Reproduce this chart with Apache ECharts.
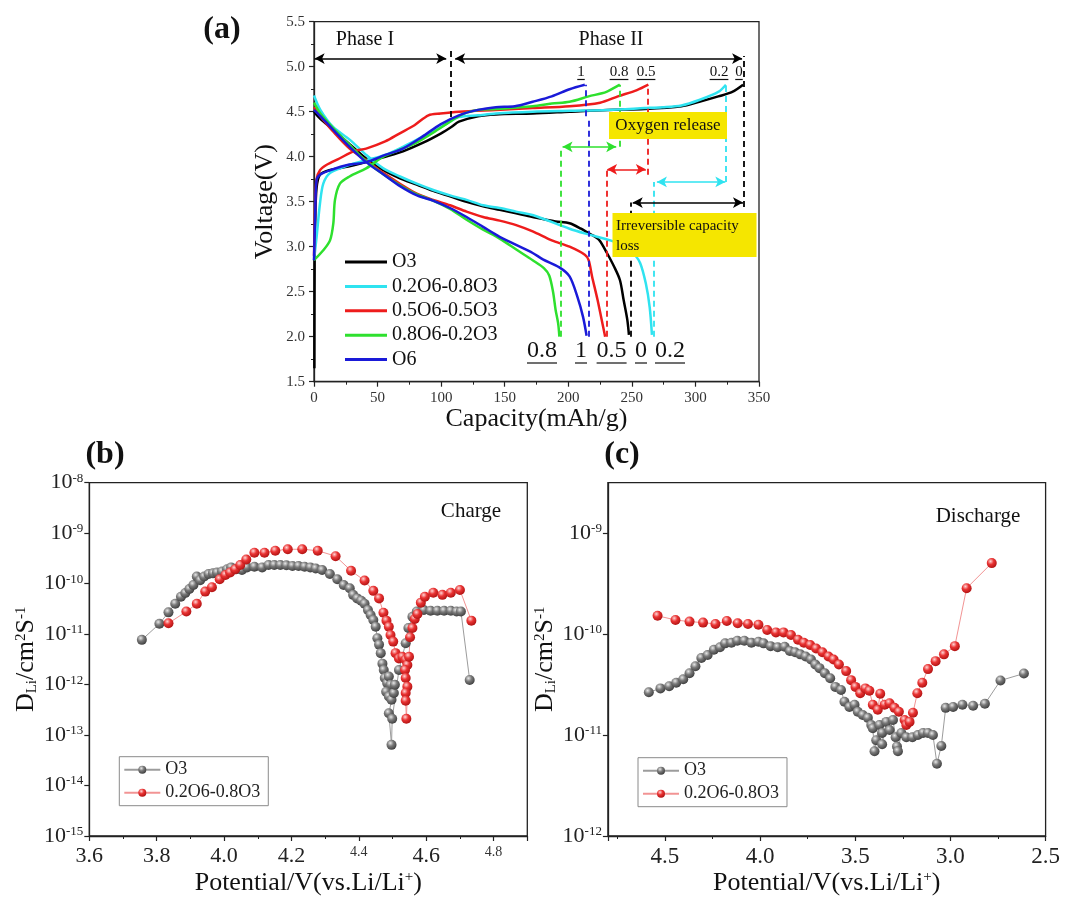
<!DOCTYPE html>
<html>
<head>
<meta charset="utf-8">
<title>Charge/discharge and Li diffusion</title>
<script src="https://cdn.jsdelivr.net/npm/echarts/dist/echarts.min.js"></script>
<style>
  html, body { margin: 0; padding: 0; background: #fff; }
  #chart { width: 1080px; height: 914px; }
</style>
</head>
<body>
<div id="chart"></div>
<script>
  const SERIF = "'Times New Roman', 'Liberation Serif', 'DejaVu Serif', serif";

  // (a) courbes de charge / décharge : capacité (mAh/g) et tension (V)
  const o3ChgCap = [0.3, 0.5, 1, 2, 4.6, 12, 27, 41, 56, 70, 85, 100, 108, 114, 129, 143, 172, 201, 231, 260, 289, 303, 318, 329, 337.5];
  const o3ChgV = [1.65, 2.8, 3.3, 3.65, 3.8, 3.85, 3.89, 3.94, 4.0, 4.06, 4.15, 4.26, 4.33, 4.39, 4.45, 4.47, 4.48, 4.5, 4.52, 4.53, 4.56, 4.61, 4.67, 4.72, 4.8];
  const c2ChgCap = [0, 2, 4.7, 7.3, 12.6, 28, 41, 56, 70, 85, 100, 114, 129, 143, 172, 201, 231, 260, 274, 289, 303, 318, 324];
  const c2ChgV = [2.85, 3.1, 3.48, 3.7, 3.82, 3.91, 3.96, 4.02, 4.11, 4.22, 4.33, 4.44, 4.46, 4.48, 4.5, 4.51, 4.52, 4.54, 4.55, 4.57, 4.63, 4.72, 4.8];
  const c5ChgCap = [0, 1, 2, 4.7, 10, 20, 31, 41, 56, 67.5, 79, 90, 99.5, 114, 143, 172, 201, 225, 239, 254, 263];
  const c5ChgV = [2.9, 3.5, 3.75, 3.85, 3.91, 3.98, 4.06, 4.09, 4.17, 4.26, 4.35, 4.46, 4.48, 4.5, 4.52, 4.54, 4.56, 4.6, 4.67, 4.74, 4.8];
  const c8ChgCap = [0, 7.3, 12.6, 15.2, 16.5, 20.4, 28, 41, 54.5, 68, 81, 94, 107, 114, 120, 129, 143, 172, 187, 201, 216, 230, 240.6];
  const c8ChgV = [2.85, 2.96, 3.07, 3.26, 3.52, 3.7, 3.78, 3.87, 4.0, 4.08, 4.16, 4.27, 4.39, 4.45, 4.49, 4.52, 4.53, 4.56, 4.59, 4.61, 4.67, 4.72, 4.8];
  const o6ChgCap = [0, 1, 2, 4.7, 15, 27, 41, 56, 70, 85, 99.5, 114, 129, 143, 158, 172, 187, 201, 213];
  const o6ChgV = [2.85, 3.4, 3.74, 3.8, 3.86, 3.91, 3.94, 4.02, 4.09, 4.22, 4.36, 4.46, 4.52, 4.55, 4.56, 4.61, 4.67, 4.75, 4.8];

  const o3DisCap = [0, 5, 15, 28, 41, 54.5, 67.6, 80.8, 93.8, 107, 120, 133, 146, 159, 172, 190, 201, 210, 216, 220, 224.6, 230.4, 236, 240.6, 243.5, 246.4, 247.7];
  const o3DisV = [4.5, 4.42, 4.3, 4.14, 3.98, 3.85, 3.76, 3.69, 3.62, 3.56, 3.5, 3.45, 3.41, 3.37, 3.33, 3.28, 3.26, 3.2, 3.15, 3.12, 3.07, 2.93, 2.78, 2.63, 2.41, 2.19, 2.02];
  const c2DisCap = [0, 5, 15, 28, 41, 54.5, 67.6, 80.8, 93.8, 107, 120, 133, 146, 159, 172.5, 201, 215, 233, 245, 251, 256.5, 261, 264, 265.8];
  const c2DisV = [4.68, 4.52, 4.33, 4.19, 4.02, 3.87, 3.78, 3.7, 3.63, 3.57, 3.52, 3.46, 3.43, 3.39, 3.35, 3.2, 3.14, 3.07, 3.0, 2.93, 2.82, 2.59, 2.33, 2.02];
  const c5DisCap = [0, 5, 15, 28, 44, 54.5, 67.6, 80.8, 93.8, 107, 120, 133, 146, 159, 172, 187, 201, 213, 216, 218.7, 223, 227.4, 229];
  const c5DisV = [4.55, 4.45, 4.28, 4.09, 3.93, 3.82, 3.7, 3.59, 3.52, 3.46, 3.39, 3.33, 3.29, 3.24, 3.17, 3.07, 3.0, 2.91, 2.85, 2.67, 2.41, 2.11, 2.0];
  const c8DisCap = [0, 5, 15, 28, 41, 55, 68, 81, 94, 107, 120, 133, 146, 160, 172, 181, 185, 188, 190, 192, 193];
  const c8DisV = [4.6, 4.48, 4.32, 4.13, 3.95, 3.8, 3.68, 3.58, 3.51, 3.42, 3.3, 3.19, 3.09, 2.96, 2.85, 2.76, 2.68, 2.5, 2.3, 2.15, 2.0];
  const o6DisCap = [0, 5, 15, 28, 41, 55, 68, 81, 94, 107, 120, 133, 146, 159, 172, 180, 193, 201, 207, 211.6, 214.4];
  const o6DisV = [4.52, 4.45, 4.3, 4.11, 3.94, 3.8, 3.67, 3.57, 3.51, 3.43, 3.33, 3.22, 3.11, 3.02, 2.93, 2.86, 2.77, 2.67, 2.45, 2.22, 2.01];

  const sampleNames = ['O3', '0.2O6-0.8O3', '0.5O6-0.5O3', '0.8O6-0.2O3', 'O6'];
  const sampleColors = ['#000000', '#2fe3f0', '#ee1c1c', '#2ee02e', '#1a1ad8'];

  // lignes pointillées verticales : [capacité, V bas, V haut, couleur]
  const dashMarks = [
    [107.3, 4.44, 5.18, '#000'], [338, 3.44, 5.12, '#000'], [249, 2.0, 3.49, '#000'],
    [214, 4.45, 4.8, '#1a1ad8'], [216, 2.0, 4.4, '#1a1ad8'],
    [240.6, 4.11, 4.8, '#2ee02e'], [194, 2.0, 4.11, '#2ee02e'],
    [262.4, 3.8, 4.8, '#ee1c1c'], [230.5, 2.0, 3.86, '#ee1c1c'],
    [324, 3.72, 4.8, '#2fe3f0'], [267.6, 2.0, 3.72, '#2fe3f0']
  ];
  // flèches doubles : [capacité début, capacité fin, V, couleur]
  const arrowMarks = [
    [0.5, 104, 5.09, '#000'], [111, 336.7, 5.09, '#000'],
    [195.5, 237.7, 4.11, '#2ee02e'], [230.5, 261, 3.86, '#ee1c1c'],
    [269.7, 323.5, 3.72, '#2fe3f0'], [250.7, 337.4, 3.49, '#000']
  ];

  // (b) coefficient de diffusion en charge
  const bPotO3 = [3.756, 3.808, 3.835, 3.855, 3.872, 3.885, 3.897, 3.909, 3.919, 3.929, 3.941, 3.954, 3.967, 3.979, 3.994, 4.009, 4.021, 4.036, 4.053, 4.068,
    4.09, 4.113, 4.132, 4.149, 4.167, 4.185, 4.203, 4.221, 4.239, 4.256, 4.272, 4.291, 4.314, 4.336, 4.355, 4.373, 4.383, 4.395, 4.407, 4.417,
    4.427, 4.435, 4.443, 4.45, 4.455, 4.46, 4.465, 4.47, 4.474, 4.477, 4.484, 4.489, 4.494, 4.481, 4.489, 4.497, 4.504, 4.507, 4.489, 4.497,
    4.499, 4.519, 4.539, 4.547, 4.559, 4.572, 4.593, 4.613, 4.633, 4.653, 4.673, 4.69, 4.703, 4.729];
  const bDO3 = [7.7e-12, 1.6e-11, 2.7e-11, 4.0e-11, 5.5e-11, 6.5e-11, 7.8e-11, 9.4e-11, 1.38e-10, 1.17e-10, 1.38e-10, 1.55e-10, 1.6e-10, 1.66e-10, 1.74e-10, 1.93e-10, 2.1e-10, 1.93e-10, 1.86e-10, 2.1e-10,
    2.17e-10, 2.1e-10, 2.34e-10, 2.34e-10, 2.34e-10, 2.31e-10, 2.24e-10, 2.24e-10, 2.17e-10, 2.1e-10, 2.0e-10, 1.86e-10, 1.55e-10, 1.22e-10, 9.4e-11, 8.1e-11, 6.0e-11, 5.1e-11, 4.6e-11, 4.0e-11,
    3.0e-11, 2.4e-11, 1.9e-11, 1.4e-11, 8.3e-12, 6.2e-12, 4.2e-12, 2.6e-12, 1.95e-12, 1.35e-12, 1.07e-12, 1.45e-12, 9.9e-13, 7.2e-13, 5.8e-13, 5.0e-13, 6.8e-13, 9.9e-13, 2.7e-13, 6.4e-14,
    2.1e-13, 1.95e-12, 6.6e-12, 1.32e-11, 2.2e-11, 2.8e-11, 3.0e-11, 2.9e-11, 2.9e-11, 2.9e-11, 2.9e-11, 2.8e-11, 2.8e-11, 1.23e-12];
  const bPotMix = [3.835, 3.888, 3.919, 3.944, 3.964, 3.987, 4.004, 4.018, 4.033, 4.048, 4.066, 4.09, 4.12, 4.152, 4.189, 4.232, 4.278, 4.331, 4.377, 4.417,
    4.443, 4.46, 4.473, 4.482, 4.489, 4.494, 4.502, 4.509, 4.519, 4.529, 4.539, 4.544, 4.537, 4.539, 4.544, 4.539, 4.539, 4.541,
    4.549, 4.552, 4.559, 4.566, 4.574, 4.584, 4.596, 4.621, 4.648, 4.673, 4.70, 4.734];
  const bDMix = [1.64e-11, 2.8e-11, 4.0e-11, 6.95e-11, 8.5e-11, 1.22e-10, 1.48e-10, 1.66e-10, 1.93e-10, 2.34e-10, 3.0e-10, 4.1e-10, 4.1e-10, 4.5e-10, 4.8e-10, 4.8e-10, 4.5e-10, 3.5e-10, 1.8e-10, 1.15e-10,
    7.2e-11, 5.1e-11, 2.66e-11, 1.85e-11, 1.4e-11, 9.6e-12, 7.1e-12, 4.2e-12, 3.3e-12, 3.55e-12, 3.1e-12, 2.45e-12, 1.95e-12, 1.35e-12, 9.1e-13, 6.8e-13, 4.8e-13, 2.1e-13,
    3.55e-12, 8.7e-12, 1.32e-11, 2.0e-11, 2.5e-11, 4.2e-11, 5.5e-11, 6.6e-11, 6.0e-11, 6.6e-11, 7.5e-11, 1.85e-11];

  // (c) coefficient de diffusion en décharge
  const cPotO3 = [4.585, 4.524, 4.478, 4.441, 4.404, 4.371, 4.34, 4.309, 4.276, 4.243, 4.211, 4.184, 4.151, 4.12, 4.083, 4.046, 4.009, 3.982, 3.945, 3.908,
    3.871, 3.844, 3.816, 3.789, 3.761, 3.733, 3.71, 3.688, 3.66, 3.632, 3.605, 3.575, 3.557, 3.531, 3.504, 3.487, 3.461, 3.434, 3.416, 3.408,
    3.399, 3.39, 3.373, 3.359, 3.359, 3.337, 3.32, 3.302, 3.288, 3.281, 3.276, 3.258, 3.232, 3.2, 3.171, 3.144, 3.118, 3.092, 3.071, 3.048,
    3.025, 2.986, 2.937, 2.881, 2.819, 2.737, 2.614];
  const cDO3 = [2.65e-11, 2.9e-11, 3.05e-11, 3.3e-11, 3.57e-11, 4.1e-11, 4.8e-11, 5.8e-11, 6.2e-11, 7.0e-11, 7.4e-11, 8.1e-11, 8.2e-11, 8.6e-11, 8.6e-11, 8.2e-11, 8.4e-11, 8.1e-11, 7.6e-11, 7.4e-11,
    7.5e-11, 6.8e-11, 6.6e-11, 6.3e-11, 6.0e-11, 5.6e-11, 5.0e-11, 4.6e-11, 4.1e-11, 3.65e-11, 3.0e-11, 2.8e-11, 2.14e-11, 1.9e-11, 2.0e-11, 1.7e-11, 1.58e-11, 1.48e-11, 1.26e-11, 1.17e-11,
    6.9e-12, 8.9e-12, 1.26e-11, 1.05e-11, 8.1e-12, 1.35e-11, 1.12e-11, 1.41e-11, 9.5e-12, 7.7e-12, 6.9e-12, 1.05e-11, 9.5e-12, 9.5e-12, 1.0e-11, 1.05e-11, 1.05e-11, 1.0e-11, 5.2e-12, 7.8e-12,
    1.86e-11, 1.9e-11, 2.0e-11, 1.95e-11, 2.04e-11, 3.47e-11, 4.07e-11];
  const cPotMix = [4.539, 4.445, 4.371, 4.30, 4.235, 4.175, 4.118, 4.064, 4.009, 3.963, 3.917, 3.877, 3.838, 3.801, 3.77, 3.737, 3.706, 3.673, 3.641, 3.614,
    3.586, 3.548, 3.522, 3.499, 3.474, 3.447, 3.426, 3.408, 3.382, 3.369, 3.346, 3.32, 3.294, 3.271, 3.241, 3.232, 3.215, 3.197, 3.174, 3.148,
    3.118, 3.078, 3.034, 2.977, 2.915, 2.783];
  const cDMix = [1.52e-10, 1.38e-10, 1.33e-10, 1.3e-10, 1.26e-10, 1.35e-10, 1.28e-10, 1.26e-10, 1.24e-10, 1.1e-10, 1.04e-10, 1.04e-10, 9.8e-11, 8.8e-11, 8.2e-11, 7.8e-11, 7.2e-11, 6.6e-11, 6.0e-11, 5.6e-11,
    5.0e-11, 4.3e-11, 3.5e-11, 3.0e-11, 2.6e-11, 2.9e-11, 2.75e-11, 2.0e-11, 1.78e-11, 2.57e-11, 2.0e-11, 2.07e-11, 1.86e-11, 1.7e-11, 1.41e-11, 1.26e-11, 1.35e-11, 1.66e-11, 2.6e-11, 3.3e-11,
    4.5e-11, 5.4e-11, 6.3e-11, 7.6e-11, 2.85e-10, 5.05e-10];

  const bTickSmall = ['4.4', '4.8'];

  // Styles des sphères
  const greyBall = {
    type: 'radial', x: 0.38, y: 0.32, r: 0.7,
    colorStops: [{ offset: 0, color: '#e8e8e8' }, { offset: 0.45, color: '#7a7a7a' }, { offset: 1, color: '#3e3e3e' }]
  };
  const redBall = {
    type: 'radial', x: 0.38, y: 0.32, r: 0.7,
    colorStops: [{ offset: 0, color: '#ffd6d6' }, { offset: 0.45, color: '#ea3434' }, { offset: 1, color: '#b01212' }]
  };

  function zip(xs, ys) {
    return xs.map((x, i) => [x, ys[i]]);
  }

  function logLabel(v) {
    const e = Math.round(Math.log10(v));
    if (Math.abs(Math.log10(v) - e) > 1e-6) return '';
    return '{b|10}{s|' + e + '}';
  }

  const axisColor = '#222';
  const logRich = {
    b: { fontFamily: SERIF, fontSize: 22, color: '#222' },
    s: { fontFamily: SERIF, fontSize: 13, color: '#222', verticalAlign: 'top' }
  };
  const nameRich = {
    sub: { fontFamily: SERIF, fontSize: 15, color: '#111', verticalAlign: 'bottom' },
    sup: { fontFamily: SERIF, fontSize: 15, color: '#111', verticalAlign: 'top' }
  };

  function baseAxis(extra) {
    return Object.assign({
      axisLine: { show: true, lineStyle: { color: axisColor, width: 1.3 } },
      axisTick: { show: true, inside: false, length: 5, lineStyle: { color: axisColor, width: 1.2 } },
      minorTick: { show: true, splitNumber: 2, length: 3, lineStyle: { color: axisColor, width: 1 } },
      splitLine: { show: false },
      minorSplitLine: { show: false }
    }, extra);
  }

  // Séries (a)
  const seriesList = [];
  const chg = [[o3ChgCap, o3ChgV], [c2ChgCap, c2ChgV], [c5ChgCap, c5ChgV], [c8ChgCap, c8ChgV], [o6ChgCap, o6ChgV]];
  const dis = [[o3DisCap, o3DisV], [c2DisCap, c2DisV], [c5DisCap, c5DisV], [c8DisCap, c8DisV], [o6DisCap, o6DisV]];
  sampleNames.forEach((name, i) => {
    [chg[i], dis[i]].forEach(pair => {
      seriesList.push({
        name: 'a-' + name, type: 'line', xAxisIndex: 0, yAxisIndex: 0,
        data: zip(pair[0], pair[1]), symbol: 'none', smooth: 0.3,
        color: sampleColors[i],
        lineStyle: { color: sampleColors[i], width: 2.5 }
      });
    });
  });

  seriesList.push({
    name: 'a-dash', type: 'line', xAxisIndex: 0, yAxisIndex: 0, data: [], silent: true,
    markLine: {
      silent: true, symbol: 'none', label: { show: false }, animation: false,
      data: dashMarks.map(d => [
        { coord: [d[0], d[1]], lineStyle: { color: d[3], type: [6, 4], width: 1.8 } },
        { coord: [d[0], d[2]] }
      ])
    }
  });
  seriesList.push({
    name: 'a-arrow', type: 'line', xAxisIndex: 0, yAxisIndex: 0, data: [], silent: true,
    markLine: {
      silent: true, symbol: ['arrow', 'arrow'], symbolSize: [8, 10], label: { show: false }, animation: false,
      data: arrowMarks.map(d => [
        { coord: [d[0], d[2]], lineStyle: { color: d[3], type: 'solid', width: 1.5 }, itemStyle: { color: d[3] } },
        { coord: [d[1], d[2]] }
      ])
    }
  });

  // Séries (b) et (c)
  function ballSeries(name, grid, data, ball, lineColor) {
    return {
      name: name, type: 'line', xAxisIndex: grid, yAxisIndex: grid, data: data,
      symbol: 'circle', symbolSize: 10, showSymbol: true,
      itemStyle: { color: ball, borderWidth: 0 },
      lineStyle: { color: lineColor, width: 1 }
    };
  }
  seriesList.push(ballSeries('b-O3', 1, zip(bPotO3, bDO3), greyBall, '#9c9c9c'));
  seriesList.push(ballSeries('b-0.2O6-0.8O3', 1, zip(bPotMix, bDMix), redBall, '#f29494'));
  seriesList.push(ballSeries('c-O3', 2, zip(cPotO3, cDO3), greyBall, '#9c9c9c'));
  seriesList.push(ballSeries('c-0.2O6-0.8O3', 2, zip(cPotMix, cDMix), redBall, '#f29494'));

  // Textes et annotations (a), dessinés au-dessus des courbes
  function textEl(txt, x, y, size, extra) {
    return {
      type: 'text', x: x, y: y, silent: true, z: 100,
      style: Object.assign({
        text: txt, font: size + 'px ' + SERIF, fill: '#111',
        align: 'center', verticalAlign: 'middle', textAlign: 'center', textVerticalAlign: 'middle'
      }, extra || {})
    };
  }
  function underlined(txt, x, y, size) {
    let w = 0;
    for (const ch of txt) w += (ch === '.' ? 0.25 : 0.5) * size;
    return [
      textEl(txt, x, y, size),
      { type: 'line', silent: true, z: 100, shape: { x1: x - w / 2, y1: y + size * 0.5, x2: x + w / 2, y2: y + size * 0.5 }, style: { stroke: '#111', lineWidth: 1.2 } }
    ];
  }

  const topLabels = [['1', 581], ['0.8', 619], ['0.5', 646], ['0.2', 719], ['0', 739]];
  const bottomLabels = [['0.8', 542], ['1', 581], ['0.5', 611.6], ['0', 641], ['0.2', 670]];

  const graphics = [
    textEl('(a)', 222, 30, 32, { font: 'bold 32px ' + SERIF }),
    textEl('(b)', 105, 455, 32, { font: 'bold 32px ' + SERIF }),
    textEl('(c)', 622, 455, 32, { font: 'bold 32px ' + SERIF }),
    textEl('Phase I', 365, 40, 20),
    textEl('Phase II', 611, 40, 20),
    { type: 'rect', silent: true, z: 99, shape: { x: 609, y: 112, width: 118, height: 27 }, style: { fill: '#f5e600' } },
    textEl('Oxygen release', 668, 126, 17),
    { type: 'rect', silent: true, z: 99, shape: { x: 612.5, y: 213, width: 144, height: 44 }, style: { fill: '#f5e600' } },
    textEl('Irreversible capacity\nloss', 616, 216, 15, { align: 'left', textAlign: 'left', verticalAlign: 'top', textVerticalAlign: 'top', lineHeight: 20 }),
    textEl('Charge', 471, 511, 21),
    textEl('Discharge', 978, 516, 21)
  ];
  topLabels.forEach(l => graphics.push(...underlined(l[0], l[1], 72, 15)));
  bottomLabels.forEach(l => graphics.push(...underlined(l[0], l[1], 351, 24)));

  const chart = echarts.init(document.getElementById('chart'), null, { renderer: 'canvas' });

  const option = {
    animation: false,
    backgroundColor: '#ffffff',
    grid: [
      { left: 314, top: 21.7, width: 445, height: 360, show: true, borderColor: axisColor, borderWidth: 1.3, backgroundColor: 'transparent' },
      { left: 89.3, top: 482.7, width: 438, height: 353.3, show: true, borderColor: axisColor, borderWidth: 1.3, backgroundColor: 'transparent' },
      { left: 607.9, top: 482.7, width: 437.7, height: 353.3, show: true, borderColor: axisColor, borderWidth: 1.3, backgroundColor: 'transparent' }
    ],
    xAxis: [
      baseAxis({
        gridIndex: 0, type: 'value', min: 0, max: 350, interval: 50,
        axisLabel: { fontFamily: SERIF, fontSize: 15, color: '#333', margin: 9 },
        name: 'Capacity(mAh/g)', nameLocation: 'middle', nameGap: 22,
        nameTextStyle: { fontFamily: SERIF, fontSize: 26, color: '#111' }
      }),
      baseAxis({
        gridIndex: 1, type: 'value', min: 3.6, max: 4.9, interval: 0.2,
        axisLabel: {
          showMaxLabel: false, margin: 9,
          formatter: v => {
            const s = v.toFixed(1);
            return bTickSmall.indexOf(s) >= 0 ? '{s|' + s + '}' : '{b|' + s + '}';
          },
          rich: {
            b: { fontFamily: SERIF, fontSize: 22, color: '#222' },
            s: { fontFamily: SERIF, fontSize: 14, color: '#333' }
          }
        },
        name: 'Potential/V(vs.Li/Li{sup|+})', nameLocation: 'middle', nameGap: 34,
        nameTextStyle: { fontFamily: SERIF, fontSize: 26, color: '#111', rich: nameRich }
      }),
      baseAxis({
        gridIndex: 2, type: 'value', min: 2.5, max: 4.8, interval: 0.5, inverse: true,
        axisLabel: {
          showMaxLabel: false, fontFamily: SERIF, fontSize: 23, color: '#222', margin: 9,
          formatter: v => (Math.abs(v * 2 - Math.round(v * 2)) < 1e-6 ? v.toFixed(1) : '')
        },
        name: 'Potential/V(vs.Li/Li{sup|+})', nameLocation: 'middle', nameGap: 34,
        nameTextStyle: { fontFamily: SERIF, fontSize: 26, color: '#111', rich: nameRich }
      })
    ],
    yAxis: [
      baseAxis({
        gridIndex: 0, type: 'value', min: 1.5, max: 5.5, interval: 0.5,
        axisLabel: { fontFamily: SERIF, fontSize: 15, color: '#333', margin: 9, formatter: v => v.toFixed(1) },
        name: 'Voltage(V)', nameLocation: 'middle', nameGap: 36,
        nameTextStyle: { fontFamily: SERIF, fontSize: 26, color: '#111' }
      }),
      baseAxis({
        gridIndex: 1, type: 'log', logBase: 10, min: 1e-15, max: 1e-8, interval: 1,
        minorTick: { show: false },
        axisLabel: { formatter: logLabel, rich: logRich, margin: 6 },
        name: 'D{sub|Li}/cm{sup|2}S{sup|-1}', nameLocation: 'middle', nameGap: 50,
        nameTextStyle: { fontFamily: SERIF, fontSize: 26, color: '#111', rich: nameRich }
      }),
      baseAxis({
        gridIndex: 2, type: 'log', logBase: 10, min: 1e-12, max: 3.1623e-9, interval: 1,
        minorTick: { show: false },
        axisLabel: { formatter: logLabel, rich: logRich, margin: 6, showMaxLabel: false },
        name: 'D{sub|Li}/cm{sup|2}S{sup|-1}', nameLocation: 'middle', nameGap: 42,
        nameTextStyle: { fontFamily: SERIF, fontSize: 26, color: '#111', rich: nameRich }
      })
    ],
    legend: [
      {
        data: sampleNames.map(n => 'a-' + n), formatter: n => n.slice(2),
        orient: 'vertical', left: 340, top: 247, icon: 'rect', itemWidth: 42, itemHeight: 3, itemGap: 4.4,
        selectedMode: false, textStyle: { fontFamily: SERIF, fontSize: 20, color: '#111', lineHeight: 20 }
      },
      {
        data: ['b-O3', 'b-0.2O6-0.8O3'], formatter: n => n.slice(2),
        orient: 'vertical', left: 119.3, top: 756.7, itemWidth: 36, itemHeight: 10, itemGap: 5,
        padding: [4, 8, 4, 4], borderColor: '#8a8a8a', borderWidth: 1, selectedMode: false,
        textStyle: { fontFamily: SERIF, fontSize: 18, color: '#222', lineHeight: 18 }
      },
      {
        data: ['c-O3', 'c-0.2O6-0.8O3'], formatter: n => n.slice(2),
        orient: 'vertical', left: 638, top: 757.7, itemWidth: 36, itemHeight: 10, itemGap: 5,
        padding: [4, 8, 4, 4], borderColor: '#8a8a8a', borderWidth: 1, selectedMode: false,
        textStyle: { fontFamily: SERIF, fontSize: 18, color: '#222', lineHeight: 18 }
      }
    ],
    graphic: graphics,
    series: seriesList
  };

  chart.setOption(option);
  window.addEventListener('resize', () => chart.resize());
</script>
</body>
</html>
